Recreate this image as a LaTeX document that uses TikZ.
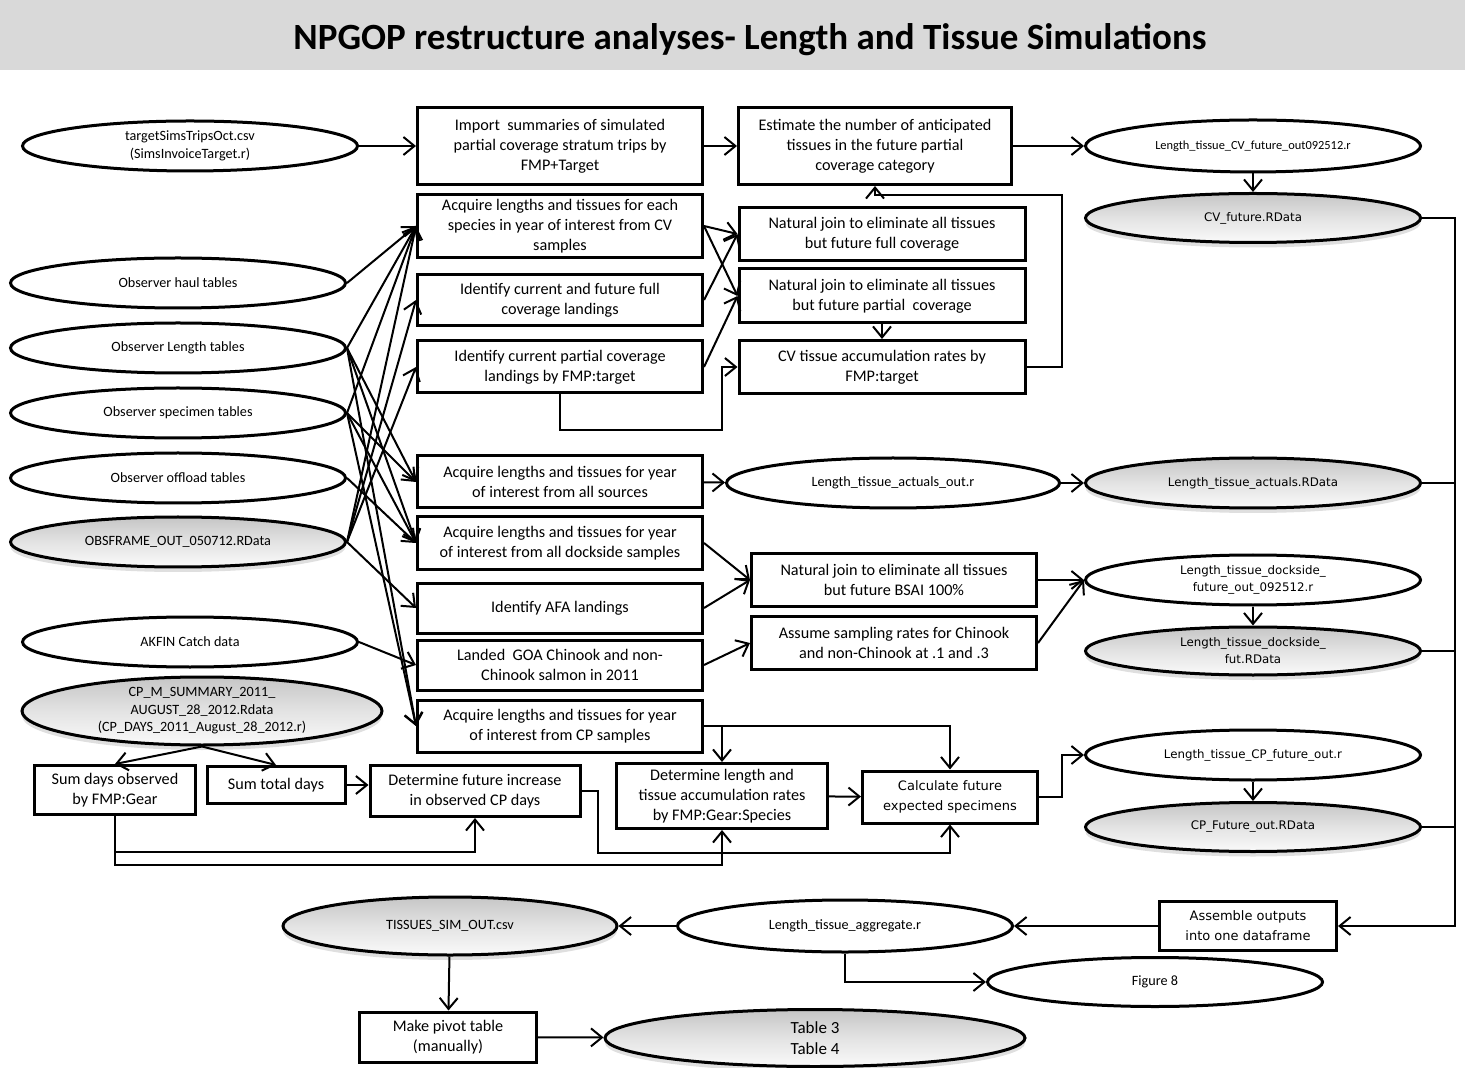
\documentclass[tikz,border=0pt]{standalone}
\usepackage{fontspec}
\setmainfont{Carlito}
\newfontfamily\verdfont{DejaVu Sans}
\usetikzlibrary{shapes.geometric,arrows.meta,shadows}

\begin{document}
\begin{tikzpicture}[x=.5pt,y=-.5pt,line width=1pt,
    >={Straight Barb[length=5.5pt,width=9pt]},
    proc/.style={draw,line width=1.5pt,align=center,inner sep=0pt,
      font=\fontsize{8.1}{10}\selectfont},
    src/.style={draw,ellipse,line width=1.5pt,align=center,inner sep=0pt,
      minimum width=167.5pt,minimum height=25pt,
      font=\fontsize{7.1}{8.7}\selectfont},
    dat/.style={src,top color=gray!45,bottom color=gray!4,middle color=gray!22,
      drop shadow={opacity=.25,shadow xshift=0pt,shadow yshift=-2.5pt}},
    vsmall/.style={font=\verdfont\fontsize{5.9}{8.5}\selectfont}]
  \useasboundingbox (0,0) rectangle (1465,1068);
  \fill[gray!30] (0,0) rectangle (1465,70);
  \node[font=\fontsize{18.5}{22}\selectfont\bfseries] (title) at (750,40)
    {NPGOP restructure analyses- Length and Tissue Simulations};
  \coordinate (bus) at (1455,0);

  \node[src] (trips) at (190,146) {targetSimsTripsOct.csv\\(SimsInvoiceTarget.r)};
  \node[src] (haul) at (178,283) {Observer haul tables};
  \node[src] (lentab) at (178,348) {Observer Length tables};
  \node[src] (spec) at (178,413) {Observer specimen tables};
  \node[src] (offl) at (178,478) {Observer offload tables};
  \node[dat] (obsf) at (178,542) {OBSFRAME\_OUT\_050712.RData};
  \node[src] (akfin) at (190,642) {AKFIN Catch data};
  \node[dat,minimum width=180pt,minimum height=34pt] (cpsum) at (202,711)
    {CP\_M\_SUMMARY\_2011\_\\AUGUST\_28\_2012.Rdata\\(CP\_DAYS\_2011\_August\_28\_2012.r)};

  \node[proc,minimum width=142.5pt,minimum height=38.5pt] (import) at (560,146)
    {Import~ summaries of simulated\\partial coverage stratum trips by\\FMP+Target};
  \node[proc,minimum width=136.5pt,minimum height=38.5pt] (estimate) at (875,146)
    {Estimate the number of anticipated\\tissues in the future partial\\coverage category};
  \node[proc,minimum width=142.5pt,minimum height=31.5pt] (acqCV) at (560,226)
    {Acquire lengths and tissues for each\\species in year of interest from CV\\samples};
  \node[proc,minimum width=142.5pt,minimum height=25.5pt] (idFull) at (560,300)
    {Identify current and future full\\coverage landings};
  \node[proc,minimum width=142.5pt,minimum height=26pt] (idPart) at (560,367)
    {Identify current partial coverage\\landings by FMP:target};
  \node[proc,minimum width=143pt,minimum height=26.5pt] (njFull) at (882,234)
    {Natural join to eliminate all tissues\\but future full coverage};
  \node[proc,minimum width=143pt,minimum height=27pt] (njPart) at (882,296)
    {Natural join to eliminate all tissues\\but future partial~ coverage};
  \node[proc,minimum width=143pt,minimum height=26.5pt] (cvRate) at (882,367)
    {CV tissue accumulation rates by\\FMP:target};
  \node[proc,minimum width=142.5pt,minimum height=26pt] (acqAll) at (560,482)
    {Acquire lengths and tissues for year\\of interest from all sources};
  \node[proc,minimum width=142.5pt,minimum height=26.5pt] (acqDock) at (560,543)
    {Acquire lengths and tissues for year\\of interest from all dockside samples};
  \node[proc,minimum width=142.5pt,minimum height=25pt] (afa) at (560,608)
    {Identify AFA landings};
  \node[proc,minimum width=142.5pt,minimum height=25pt] (landed) at (560,665)
    {Landed~ GOA Chinook and non-\\Chinook salmon in 2011};
  \node[proc,minimum width=142.5pt,minimum height=26pt] (acqCP) at (560,726)
    {Acquire lengths and tissues for year\\of interest from CP samples};
  \node[proc,minimum width=142.5pt,minimum height=26.5pt] (njBSAI) at (894,580)
    {Natural join to eliminate all tissues\\but future BSAI 100\%};
  \node[proc,minimum width=142.5pt,minimum height=26.5pt] (assume) at (894,643)
    {Assume sampling rates for Chinook\\and non-Chinook at .1 and .3};
  \node[proc,minimum width=80.5pt,minimum height=24.5pt] (sumObs) at (115,790)
    {Sum days observed\\by FMP:Gear};
  \node[proc,minimum width=69pt,minimum height=18.5pt] (sumTot) at (276,785)
    {Sum total days};
  \node[proc,minimum width=105pt,minimum height=25.5pt] (detInc) at (475,791)
    {Determine future increase\\in observed CP days};
  \node[proc,minimum width=105.5pt,minimum height=32.5pt] (detLen) at (722,796)
    {Determine length and\\tissue accumulation rates\\by FMP:Gear:Species};
  \node[proc,minimum width=87.5pt,minimum height=26pt,
    font=\verdfont\fontsize{6.5}{10}\selectfont] (calc) at (950,797)
    {Calculate future\\expected specimens};
  \node[proc,minimum width=88.5pt,minimum height=24.5pt,
    font=\verdfont\fontsize{6.5}{10}\selectfont] (assemble) at (1248,926)
    {Assemble outputs\\into one dataframe};
  \node[proc,minimum width=88.5pt,minimum height=25pt] (pivot) at (448,1037)
    {Make pivot table\\(manually)};

  \node[src,minimum height=26pt,font=\fontsize{6.2}{7}\selectfont] (cvout) at (1253,146)
    {Length\_tissue\_CV\_future\_out092512.r};
  \node[dat,vsmall,minimum height=24.5pt] (cvfut) at (1253,218) {CV\_future.RData};
  \node[src,minimum width=166.5pt] (actout) at (893,483) {Length\_tissue\_actuals\_out.r};
  \node[dat,vsmall] (act) at (1253,483) {Length\_tissue\_actuals.RData};
  \node[src,vsmall] (dockout) at (1253,580)
    {Length\_tissue\_dockside\_\\future\_out\_092512.r};
  \node[dat,vsmall,minimum height=24pt] (dockfut) at (1253,651)
    {Length\_tissue\_dockside\_\\fut.RData};
  \node[src,vsmall] (cpout) at (1253,755) {Length\_tissue\_CP\_future\_out.r};
  \node[dat,vsmall,minimum height=24.5pt] (cpfut) at (1253,827) {CP\_Future\_out.RData};
  \node[src,minimum height=26pt] (agg) at (845,926) {Length\_tissue\_aggregate.r};
  \node[dat,minimum width=167pt,minimum height=29pt] (tissues) at (450,926)
    {TISSUES\_SIM\_OUT.csv};
  \node[src,minimum height=24.5pt] (fig8) at (1155,982) {Figure 8};
  \node[dat,minimum width=210pt,minimum height=28.5pt,
    font=\fontsize{8.5}{10.5}\selectfont] (tables) at (815,1038) {Table 3\\Table 4};

  \draw[->] (trips) -- (import);
  \draw[->] (import) -- (estimate);
  \draw[->] (estimate) -- (cvout);
  \draw[->] (cvout) -- (cvfut);

  \draw[->] (haul.east) -- (acqCV.west);
  \draw[->] (lentab.east) -- (acqCV.west);
  \draw[->] (spec.east) -- (acqCV.west);
  \draw[->] (obsf.east) -- (acqCV.west);
  \draw[->] (obsf.east) -- (idFull.west);
  \draw[->] (obsf.east) -- (idPart.west);
  \draw[->] (lentab.east) -- (acqAll.west);
  \draw[->] (spec.east) -- (acqAll.west);
  \draw[->] (lentab.east) -- (acqDock.west);
  \draw[->] (spec.east) -- (acqDock.west);
  \draw[->] (offl.east) -- (acqDock.west);
  \draw[->] (lentab.east) -- (acqCP.west);
  \draw[->] (spec.east) -- (acqCP.west);
  \draw[->] (obsf.east) -- (afa.west);
  \draw[->] (akfin.east) -- (landed.west);

  \draw[->] (acqCV.east) -- (njFull.west);
  \draw[->] (acqCV.east) -- (njPart.west);
  \draw[->] (idFull.east) -- (njFull.west);
  \draw[->] (idPart.east) -- (njPart.west);
  \draw[->] (idPart.south) |- (722,430) |- (cvRate.west);
  \draw[->] (njPart) -- (cvRate);
  \draw[->] (cvRate.east) -| (1062,195) -| (estimate.south);

  \draw[->] (acqAll) -- (actout);
  \draw[->] (actout) -- (act);
  \draw[->] (acqDock.east) -- (njBSAI.west);
  \draw[->] (afa.east) -- (njBSAI.west);
  \draw[->] (landed.east) -- (assume.west);
  \draw[->] (njBSAI.east) -- (dockout.west);
  \draw[->] (assume.east) -- (dockout.west);
  \draw[->] (dockout) -- (dockfut);

  \draw[->] (cpsum.south) -- (sumObs.north);
  \draw[->] (cpsum.south) -- (sumTot.north);
  \draw[->] (sumTot.east) -- (sumTot.east -| detInc.west);
  \draw[->] (acqCP.east) -| (detLen.north);
  \draw[->] (acqCP.east) -| (calc.north);
  \draw[->] (detLen) -- (calc);
  \draw[->] (sumObs.south) |- (475,852) -- (detInc.south);
  \draw[->] (sumObs.south) |- (722,865) -- (detLen.south);
  \draw[->] (detInc.east) -| (598,853) -| (calc.south);
  \draw[->] (calc.east) -| (1062,755) -- (cpout.west);
  \draw[->] (cpout) -- (cpfut);

  \draw (act.east) -- (act.east -| bus);
  \draw (dockfut.east) -- (dockfut.east -| bus);
  \draw (cpfut.east) -- (cpfut.east -| bus);
  \draw[->] (cvfut.east) -| (assemble.east -| bus) -- (assemble.east);
  \draw[->] (assemble) -- (agg);
  \draw[->] (agg) -- (tissues);
  \draw[->] (agg.south) |- (fig8.west);
  \draw[->] (tissues) -- (pivot);
  \draw[->] (pivot) -- (tables);
\end{tikzpicture}
\end{document}
